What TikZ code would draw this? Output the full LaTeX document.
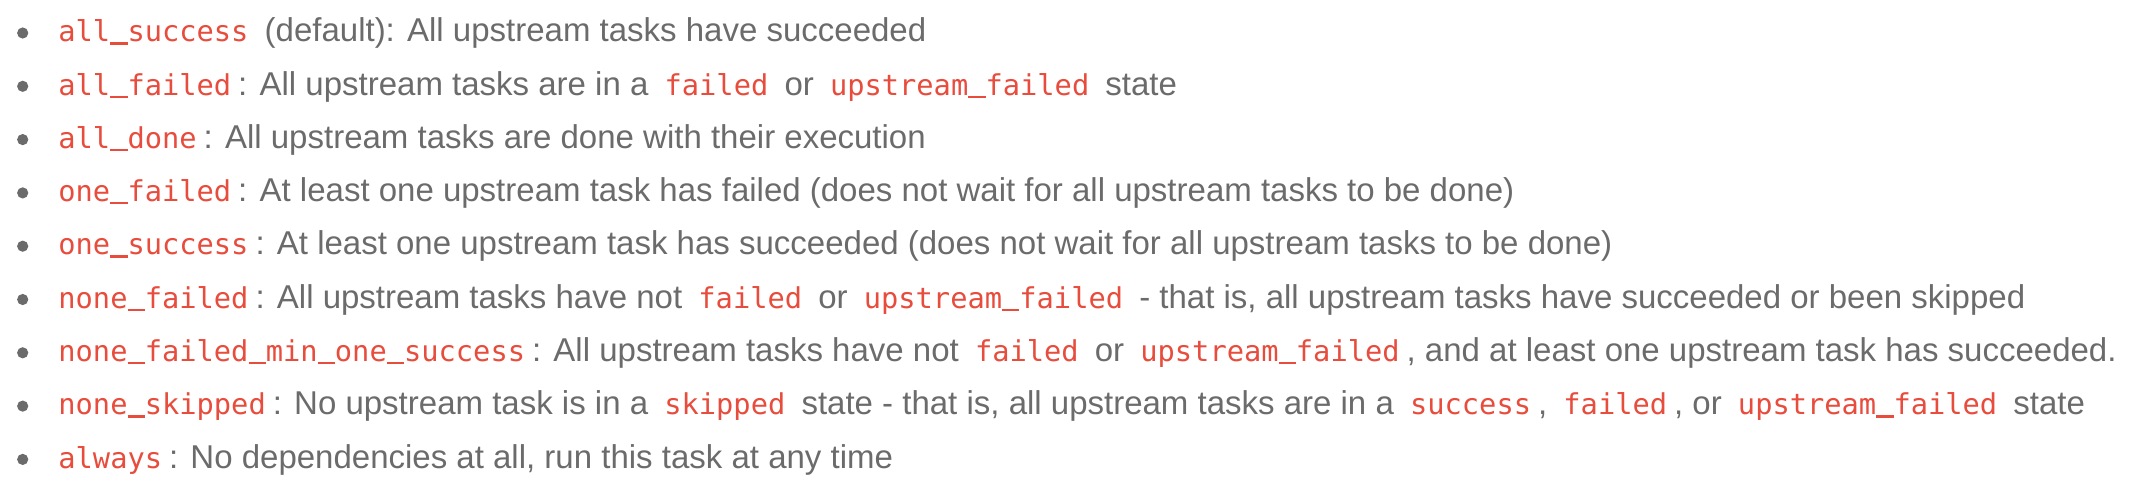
\documentclass[tikz,border=0pt]{standalone}
\usepackage{fontspec}
\setmainfont{Liberation Sans}
\setmonofont[Scale=0.87]{DejaVu Sans Mono}
\usepackage{xcolor}
\definecolor{codered}{HTML}{E74C3C}
\definecolor{textgrey}{HTML}{6B6B6B}
% underscore drawn as a rule, the font's own one is too thin
\newcommand{\codeus}{\rule[-0.1em]{0.602em}{0.08em}}
\newcommand{\code}[1]{\hspace{3.5pt}{\color{codered}\ttfamily\let\_\codeus #1}\hspace{3.5pt}}
\tikzstyle{bullet} = [circle, minimum width=5.6pt, fill=textgrey, inner sep=0pt]
\tikzstyle{item} = [anchor=base west, inner sep=0pt, text=textgrey, font=\fontsize{16.5}{18}\selectfont]

\begin{document}
\begin{tikzpicture}[x=0.5pt, y=-0.5pt]
\useasboundingbox (0,0) rectangle (2130,487);
\node[bullet] (b1) at (22.7,33) {};
\node[item] (l1) at (51,41.7) {\code{all\_success} (default): All upstream tasks have succeeded};
\node[bullet] (b2) at (22.7,86.3) {};
\node[item] (l2) at (51,95) {\code{all\_failed}: All upstream tasks are in a \code{failed} or \code{upstream\_failed} state};
\node[bullet] (b3) at (22.7,139.6) {};
\node[item] (l3) at (51,148.3) {\code{all\_done}: All upstream tasks are done with their execution};
\node[bullet] (b4) at (22.7,192.9) {};
\node[item] (l4) at (51,201.6) {\code{one\_failed}: At least one upstream task has failed (does not wait for all upstream tasks to be done)};
\node[bullet] (b5) at (22.7,246.2) {};
\node[item] (l5) at (51,254.9) {\code{one\_success}: At least one upstream task has succeeded (does not wait for all upstream tasks to be done)};
\node[bullet] (b6) at (22.7,299.5) {};
\node[item] (l6) at (51,308.2) {\code{none\_failed}: All upstream tasks have not \code{failed} or \code{upstream\_failed} - that is, all upstream tasks have succeeded or been skipped};
\node[bullet] (b7) at (22.7,352.8) {};
\node[item] (l7) at (51,361.5) {\code{none\_failed\_min\_one\_success}: All upstream tasks have not \code{failed} or \code{upstream\_failed}, and at least one upstream task has succeeded.};
\node[bullet] (b8) at (22.7,406.1) {};
\node[item] (l8) at (51,414.8) {\code{none\_skipped}: No upstream task is in a \code{skipped} state - that is, all upstream tasks are in a \code{success}, \code{failed}, or \code{upstream\_failed} state};
\node[bullet] (b9) at (22.7,459.4) {};
\node[item] (l9) at (51,468.1) {\code{always}: No dependencies at all, run this task at any time};
\end{tikzpicture}
\end{document}
